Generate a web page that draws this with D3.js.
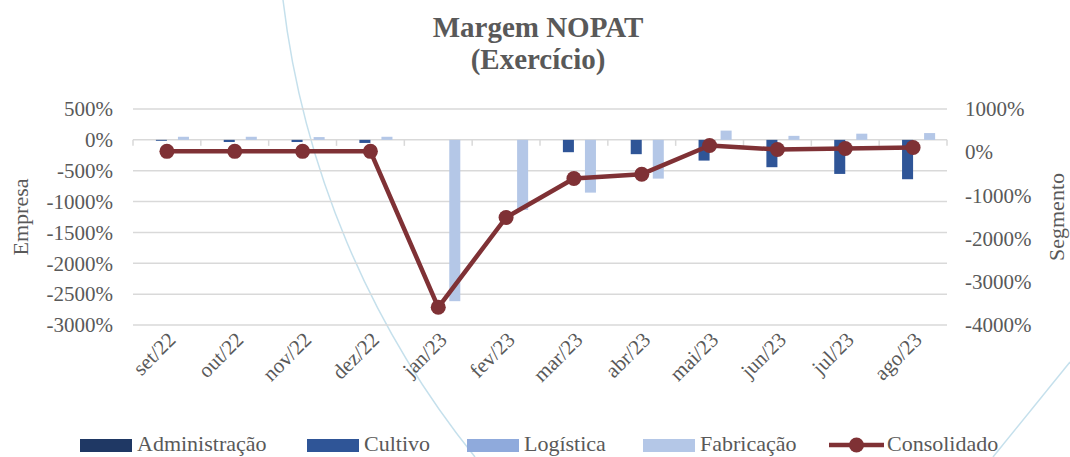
<!DOCTYPE html>
<html lang="pt">
<head>
<meta charset="UTF-8">
<title>Margem NOPAT (Exercício)</title>
<script src="https://d3js.org/d3.v7.min.js"></script>
<style>
  body, html { margin: 0; padding: 0; background: #fff; overflow: hidden; }
  text { font-family: "Liberation Serif", "DejaVu Serif", serif; fill: #595959; }
</style>
</head>
<body>
<svg id="chart"></svg>
<script>
// data (percent)
const months = ["set/22", "out/22", "nov/22", "dez/22", "jan/23", "fev/23",
                "mar/23", "abr/23", "mai/23", "jun/23", "jul/23", "ago/23"];
const administracao = [0, 0, 0, 0, 0, 0, 0, 0, 0, 0, 0, 0];
const cultivo = [-15, -35, -35, -50, 0, 0, -200, -232, -336, -443, -552, -638];
const logistica = [0, 0, 0, 0, 0, 0, 0, 0, 0, 0, 0, 0];
const fabricacao = [50, 50, 45, 50, -2614, -1136, -855, -628, 150, 65, 100, 110];
const consolidado = [20, 20, 20, 20, -3590, -1512, -609, -509, 155, 62, 85, 109];
const leftTicks = [500, 0, -500, -1000, -1500, -2000, -2500, -3000];
const rightTicks = [1000, 0, -1000, -2000, -3000, -4000];

const seriesNames = ["Administração", "Cultivo", "Logística", "Fabricação"];
const seriesData = [administracao, cultivo, logistica, fabricacao];
const colors = ["#1F3864", "#2F5597", "#8FAADC", "#B4C7E7"];
const lineColor = "#7F3135";
const font = '"Liberation Serif", "DejaVu Serif", serif';

const width = 1070, height = 457;
const plot = { left: 133, right: 947, top: 109, bottom: 325 };

const svg = d3.select("#chart").attr("width", width).attr("height", height);

// decorative arcs in the background
svg.append("path")
  .attr("d", "M283,0 A896,896 0 0,0 475,457")
  .attr("fill", "none").attr("stroke", "#c5e0ec").attr("stroke-width", 1.5);
svg.append("path")
  .attr("d", "M1070,362 Q1035,405 993,457")
  .attr("fill", "none").attr("stroke", "#c5e0ec").attr("stroke-width", 1.5);

// title
const title = svg.append("text")
  .attr("text-anchor", "middle")
  .style("font-family", font).style("font-size", "29px").style("font-weight", "bold");
title.append("tspan").attr("x", 538).attr("y", 37).text("Margem NOPAT");
title.append("tspan").attr("x", 538).attr("y", 69).text("(Exercício)");

// scales
const x0 = d3.scaleBand().domain(months).range([plot.left, plot.right]);
const bw = x0.bandwidth();
const x1 = d3.scaleBand().domain(seriesNames).range([bw * 0.175, bw * 0.825]);
const yLeft = d3.scaleLinear().domain([-3000, 500]).range([plot.bottom, plot.top]);
const yRight = d3.scaleLinear().domain([-4000, 1000]).range([plot.bottom, plot.top]);

// gridlines
svg.append("g").selectAll("line")
  .data(leftTicks)
  .join("line")
  .attr("x1", plot.left).attr("x2", plot.right)
  .attr("y1", d => yLeft(d)).attr("y2", d => yLeft(d))
  .attr("stroke", "#d9d9d9").attr("stroke-width", 1.5);

// category tick marks on zero line
svg.append("g").selectAll("line")
  .data(months.concat(["end"]))
  .join("line")
  .attr("x1", (d, i) => plot.left + i * bw).attr("x2", (d, i) => plot.left + i * bw)
  .attr("y1", yLeft(0)).attr("y2", yLeft(0) + 6)
  .attr("stroke", "#d9d9d9").attr("stroke-width", 1.5);

// bars
seriesNames.forEach((name, s) => {
  svg.append("g").selectAll("rect")
    .data(seriesData[s])
    .join("rect")
    .attr("x", (d, i) => x0(months[i]) + x1(name))
    .attr("width", x1.bandwidth())
    .attr("y", d => yLeft(Math.max(0, d)))
    .attr("height", d => Math.abs(yLeft(d) - yLeft(0)))
    .attr("fill", colors[s]);
});

// left axis
const leftAxis = d3.axisLeft(yLeft).tickValues(leftTicks).tickSize(0).tickPadding(20)
  .tickFormat(d => d + "%");
svg.append("g").attr("transform", `translate(${plot.left},0)`).call(leftAxis)
  .call(g => g.select(".domain").remove())
  .selectAll("text").style("font-size", "21px").style("font-family", font).style("fill", "#595959");

// right axis
const rightAxis = d3.axisRight(yRight).tickValues(rightTicks).tickSize(0).tickPadding(18)
  .tickFormat(d => d + "%");
svg.append("g").attr("transform", `translate(${plot.right},0)`).call(rightAxis)
  .call(g => g.select(".domain").remove())
  .selectAll("text").style("font-size", "21px").style("font-family", font).style("fill", "#595959");

// x labels
svg.append("g").selectAll("text")
  .data(months)
  .join("text")
  .attr("text-anchor", "end")
  .attr("transform", d => `translate(${x0(d) + bw / 2 + 10},${plot.bottom + 16}) rotate(-45)`)
  .style("font-family", font).style("font-size", "21px")
  .text(d => d);

// axis titles
svg.append("text")
  .attr("transform", `translate(28,${(plot.top + plot.bottom) / 2}) rotate(-90)`)
  .attr("text-anchor", "middle").style("font-family", font).style("font-size", "22px").text("Empresa");
svg.append("text")
  .attr("transform", `translate(1064,${(plot.top + plot.bottom) / 2}) rotate(-90)`)
  .attr("text-anchor", "middle").style("font-family", font).style("font-size", "22px").text("Segmento");

// consolidated line
const line = d3.line()
  .x((d, i) => x0(months[i]) + bw / 2)
  .y(d => yRight(d));
svg.append("path")
  .datum(consolidado)
  .attr("d", line)
  .attr("fill", "none").attr("stroke", lineColor).attr("stroke-width", 4.5)
  .attr("stroke-linejoin", "round");
svg.append("g").selectAll("circle")
  .data(consolidado)
  .join("circle")
  .attr("cx", (d, i) => x0(months[i]) + bw / 2)
  .attr("cy", d => yRight(d))
  .attr("r", 7.5)
  .attr("fill", lineColor);

// legend
const legendY = 445;
const legendItems = [
  { name: "Administração", x: 80, type: "bar", color: colors[0] },
  { name: "Cultivo", x: 307, type: "bar", color: colors[1] },
  { name: "Logística", x: 467, type: "bar", color: colors[2] },
  { name: "Fabricação", x: 643, type: "bar", color: colors[3] },
  { name: "Consolidado", x: 829, type: "line", color: lineColor }
];
const legend = svg.append("g");
legendItems.forEach(item => {
  const g = legend.append("g").attr("transform", `translate(${item.x},${legendY})`);
  if (item.type === "bar") {
    g.append("rect").attr("x", 0).attr("y", -6).attr("width", 52).attr("height", 13)
      .attr("fill", item.color);
  } else {
    g.append("line").attr("x1", 0).attr("x2", 55).attr("y1", 0).attr("y2", 0)
      .attr("stroke", item.color).attr("stroke-width", 4.5);
    g.append("circle").attr("cx", 27.5).attr("cy", 0).attr("r", 7.5).attr("fill", item.color);
  }
  g.append("text").attr("x", item.type === "bar" ? 57 : 58).attr("y", 6)
    .style("font-family", font).style("font-size", "22px").text(item.name);
});
</script>
</body>
</html>
